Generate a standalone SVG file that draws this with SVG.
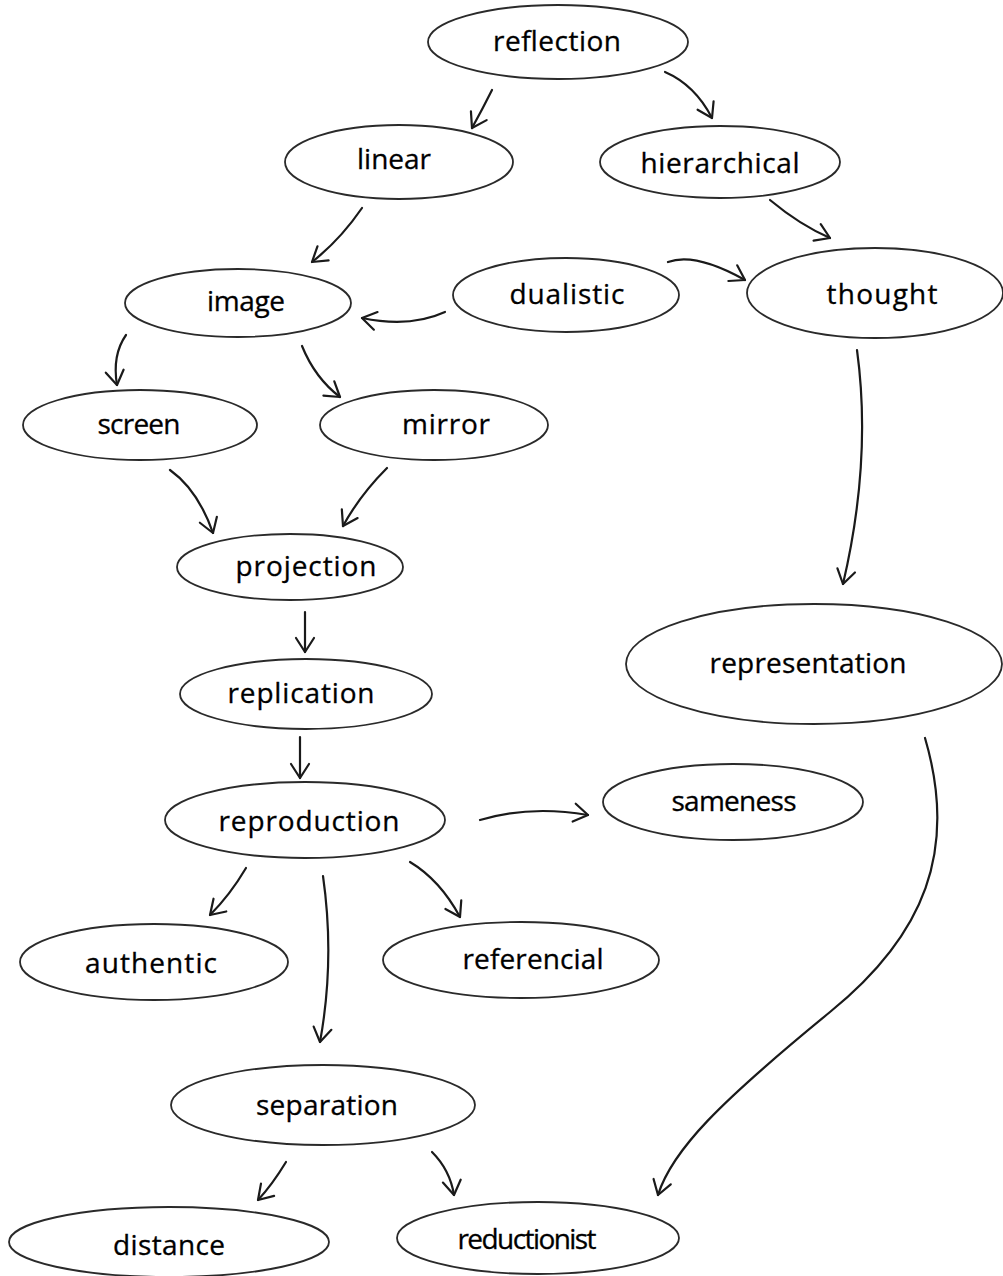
<svg xmlns="http://www.w3.org/2000/svg" width="1003" height="1276" viewBox="0 0 1003 1276">
<defs>
<style>
.n ellipse{fill:#fff;stroke:#2a2a2a;stroke-width:1.8}
.n text{font-family:"Open Sans","Noto Sans","Liberation Sans",sans-serif;font-size:28px;fill:#000;stroke:#000;stroke-width:0.3;text-anchor:middle}
.c path{fill:none;stroke:#1a1a1a;stroke-width:2.2;stroke-linecap:round;marker-end:url(#ah)}
</style>
<marker id="ah" viewBox="-16 -11 18 22" refX="0" refY="0" markerWidth="18" markerHeight="22" markerUnits="userSpaceOnUse" orient="auto">
<path d="M-14,-9 L0,0 L-14,9" fill="none" stroke="#1a1a1a" stroke-width="2.2" stroke-linecap="round" stroke-linejoin="round"/>
</marker>
</defs>
<rect width="1003" height="1276" fill="#fff"/>
<g class="c" id="connectors">
<path d="M492,90 Q482,110 472,128"/>
<path d="M665,72 Q695,85 712,118"/>
<path d="M362,208 Q340,240 312,262"/>
<path d="M770,200 Q800,225 830,238"/>
<path d="M445,312 Q410,328 362,318"/>
<path d="M668,262 Q695,252 745,280"/>
<path d="M126,335 Q112,355 117,385"/>
<path d="M302,346 Q315,378 340,397"/>
<path d="M170,470 Q198,490 213,533"/>
<path d="M387,468 Q360,495 343,526"/>
<path d="M857,350 Q872,460 843,584"/>
<path d="M305,612 L305,652"/>
<path d="M300,737 L300,778"/>
<path d="M480,820 Q530,805 588,815"/>
<path d="M246,868 Q230,895 210,915"/>
<path d="M323,876 Q335,960 320,1042"/>
<path d="M410,862 Q440,880 460,917"/>
<path d="M925,738 C958,850 925,935 830,1012 C720,1102 672,1150 658,1195"/>
<path d="M286,1162 Q272,1185 258,1200"/>
<path d="M432,1152 Q450,1170 454,1195"/>
</g>
<g class="n" id="reflection"><ellipse cx="558" cy="42" rx="130" ry="37"/><text x="557" y="51" textLength="128">reflection</text></g>
<g class="n" id="linear"><ellipse cx="399" cy="162" rx="114" ry="37"/><text x="394" y="169" textLength="74">linear</text></g>
<g class="n" id="hierarchical"><ellipse cx="720" cy="162" rx="120" ry="36"/><text x="720" y="173" textLength="159">hierarchical</text></g>
<g class="n" id="image"><ellipse cx="238" cy="303" rx="113" ry="34"/><text x="246" y="311" textLength="78">image</text></g>
<g class="n" id="dualistic"><ellipse cx="566" cy="295" rx="113" ry="37"/><text x="567" y="304" textLength="115">dualistic</text></g>
<g class="n" id="thought"><ellipse cx="875" cy="293" rx="128" ry="45"/><text x="882" y="304" textLength="111">thought</text></g>
<g class="n" id="screen"><ellipse cx="140" cy="425" rx="117" ry="35"/><text x="139" y="434" textLength="83">screen</text></g>
<g class="n" id="mirror"><ellipse cx="434" cy="425" rx="114" ry="35"/><text x="446" y="434" textLength="88">mirror</text></g>
<g class="n" id="projection"><ellipse cx="290" cy="567" rx="113" ry="33"/><text x="306" y="576" textLength="141">projection</text></g>
<g class="n" id="replication"><ellipse cx="306" cy="694" rx="126" ry="35"/><text x="301" y="703" textLength="147">replication</text></g>
<g class="n" id="reproduction"><ellipse cx="305" cy="820" rx="140" ry="38"/><text x="309" y="831" textLength="181">reproduction</text></g>
<g class="n" id="sameness"><ellipse cx="733" cy="802" rx="130" ry="38"/><text x="734" y="811" textLength="125">sameness</text></g>
<g class="n" id="representation"><ellipse cx="814" cy="664" rx="188" ry="60"/><text x="808" y="673" textLength="197">representation</text></g>
<g class="n" id="authentic"><ellipse cx="154" cy="962" rx="134" ry="38"/><text x="151" y="973" textLength="132">authentic</text></g>
<g class="n" id="referencial"><ellipse cx="521" cy="960" rx="138" ry="38"/><text x="533" y="969" textLength="141">referencial</text></g>
<g class="n" id="separation"><ellipse cx="323" cy="1105" rx="152" ry="40"/><text x="327" y="1115" textLength="142">separation</text></g>
<g class="n" id="distance"><ellipse cx="169" cy="1242" rx="160" ry="35"/><text x="169" y="1255" textLength="112">distance</text></g>
<g class="n" id="reductionist"><ellipse cx="538" cy="1238" rx="141" ry="36"/><text x="527" y="1249" textLength="139">reductionist</text></g>
</svg>
